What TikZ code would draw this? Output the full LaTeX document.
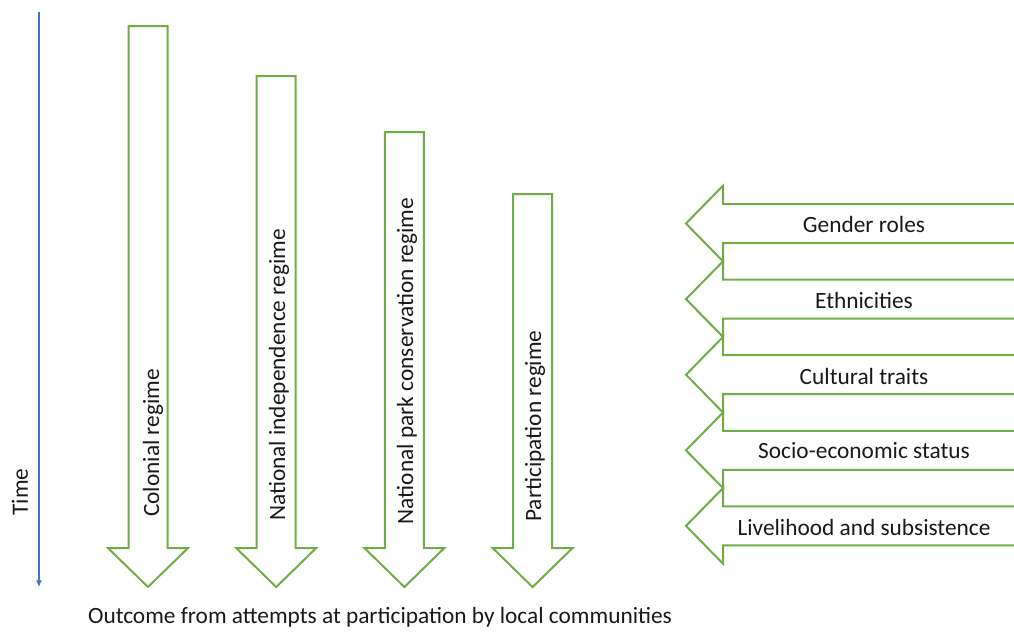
\documentclass[tikz,border=0pt]{standalone}
\usepackage{fontspec}
\setmainfont{Carlito}
\usepackage{xcolor}
\usetikzlibrary{arrows.meta}

\definecolor{regimegreen}{RGB}{112,173,71}
\definecolor{timeblue}{RGB}{68,114,196}

\begin{document}
\begin{tikzpicture}[x=0.75pt, y=-0.75pt]
        \tikzstyle{block} = [draw=regimegreen, line width=1.5pt, line join=miter]
        \tikzstyle{txt} = [inner sep=0pt, text=black!90, font=\fontsize{17.5}{20}\selectfont]
        \tikzstyle{regime} = [txt, rotate=90]
        \tikzstyle{factor} = [txt]
        \tikzstyle{timeline} = [draw=timeblue, line width=0.8pt, -{Latex[length=5pt,width=4.5pt]}]

        \clip (0,0) rectangle (1014,633);

        % block arrows pointing down, one per regime
        \foreach \x/\t in {148/26, 276.2/76, 404.4/132, 532.6/194}
            \draw [block] (\x-19.5,548) -- (\x-19.5,\t) -- (\x+19.5,\t) -- (\x+19.5,548)
                -- (\x+40,548) -- (\x,587) -- (\x-40,548) -- cycle;

        % stacked block arrows pointing left
        \foreach \c in {223.5, 299.1, 374.7, 450.3, 525.9}
            \draw [block] (1020,\c-19.5) -- (723,\c-19.5) -- (723,\c-37.8) -- (686,\c)
                -- (723,\c+37.8) -- (723,\c+19.5) -- (1020,\c+19.5);

        \node (colonial) [regime] at (153,443) {Colonial regime};
        \node (independence) [regime] at (279,375) {National independence regime};
        \node (park) [regime] at (407,361) {National park conservation regime};
        \node (participation) [regime] at (535,426) {Participation regime};

        \node (gender) [factor] at (864,224) {Gender roles};
        \node (ethnic) [factor] at (864,300) {Ethnicities};
        \node (culture) [factor] at (864,376) {Cultural traits};
        \node (status) [factor] at (864,451) {Socio-economic status};
        \node (livelihood) [factor] at (864,527) {Livelihood and subsistence};

        \node (outcome) [txt] at (380,617) {Outcome from attempts at participation by local communities};

        % time axis
        \node (time) [regime] at (20,492) {Time};
        \coordinate (tstart) at (39,12);
        \coordinate (tend) at (39,587);
        \draw [timeline] (tstart) -- (tend);
\end{tikzpicture}
\end{document}
